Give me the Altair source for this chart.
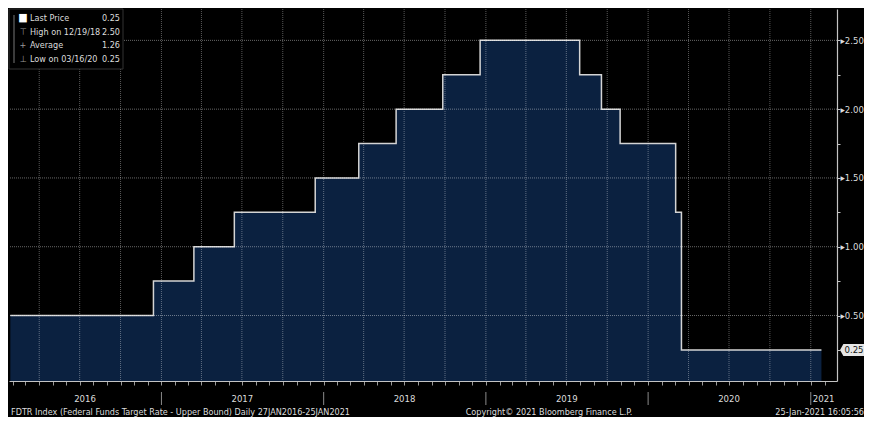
import altair as alt
import pandas as pd

# -----------------------------
# Layout / styling
# -----------------------------
W, H = 828, 372
FONT = "'Liberation Sans Narrow', 'DejaVu Sans Condensed', 'Roboto', sans-serif"
FS = 9
BG = "#000000"
FILL = "#0b2140"
LINE = "#d4d4d4"
TEXT = "#dcdcdc"
AXIS = "#c4c4c4"

# -----------------------------
# Data (FDTR upper bound, effective dates)
# -----------------------------
STEP_DATES = [
    "2016-01-27", "2016-12-14", "2017-03-15", "2017-06-14", "2017-12-13",
    "2018-03-21", "2018-06-13", "2018-09-26", "2018-12-19", "2019-07-31",
    "2019-09-18", "2019-10-30", "2020-03-03", "2020-03-16", "2021-01-25",
]
STEP_RATES = [0.50, 0.75, 1.00, 1.25, 1.50, 1.75, 2.00, 2.25, 2.50, 2.25,
              2.00, 1.75, 1.25, 0.25, 0.25]

YEAR_LABELS = ["2016", "2017", "2018", "2019", "2020", "2021"]
YEAR_LABEL_DATES = ["2016-07-13", "2017-07-02", "2018-07-02", "2019-07-02",
                    "2020-07-01", "2021-01-30"]
YEAR_BREAKS = ["2017-01-01", "2018-01-01", "2019-01-01", "2020-01-01", "2021-01-01"]
QUARTER_STARTS = [f"{y}-{m:02d}-01" for y in range(2016, 2021) for m in (1, 4, 7, 10)][1:] + ["2021-01-01"]
MONTH_TICKS = [(y, m) for y in range(2016, 2022) for m in range(1, 13)
               if (2016, 2) <= (y, m) <= (2021, 2)]

Y_TICKS = [0.25, 0.50, 0.75, 1.00, 1.25, 1.50, 1.75, 2.00, 2.25, 2.50]
Y_GRID = [0.50, 1.00, 1.50, 2.00, 2.50]

LEGEND_ICONS = ["\u25a0", "\u22a4", "+", "\u22a5"]
LEGEND_LABELS = ["Last Price", "High on 12/19/18", "Average", "Low on 03/16/20"]
LEGEND_VALUES = ["0.25", "2.50", "1.26", "0.25"]
LAST_PRICE = 0.25

FOOTER_LEFT = "FDTR Index (Federal Funds Target Rate - Upper Bound)  Daily 27JAN2016-25JAN2021"
FOOTER_MID = "Copyright\u00a9 2021 Bloomberg Finance L.P."
FOOTER_RIGHT = "25-Jan-2021 16:05:56"

# -----------------------------
# Shared scales / axes (same objects on every layer so nothing conflicts)
# -----------------------------
XS = alt.Scale(domain=[alt.DateTime(year=2016, month=1, date=24),
                       alt.DateTime(year=2021, month=3, date=1)])
YS = alt.Scale(domain=[0.024, 2.728], zero=False, nice=False)

X_AXIS = alt.Axis(values=[alt.DateTime(year=y, month=m, date=1) for y, m in MONTH_TICKS],
                  labels=False, grid=False, tickSize=4, tickColor="#9a9a9a",
                  domainColor=AXIS, domainWidth=1.2, title=None)
Y_AXIS = alt.Axis(orient="right", values=Y_TICKS, grid=False,
                  labelExpr="datum.value % 0.5 == 0 ? '\u25b8' + format(datum.value, '.2f') : ''",
                  labelOverlap=False, labelPadding=0, labelColor=TEXT,
                  labelFont=FONT, labelFontSize=FS + 0.5, tickSize=3,
                  tickColor=AXIS, domainColor=AXIS, domainWidth=1.2, title=None)


def xenc(field):
    return alt.X(field, scale=XS, axis=X_AXIS, title=None)


def yenc(field):
    return alt.Y(field, scale=YS, axis=Y_AXIS, title=None)


one = pd.DataFrame({"a": [0]})
steps = pd.DataFrame({"date": STEP_DATES, "rate": STEP_RATES})

area = (
    alt.Chart(steps)
    .mark_area(interpolate="step-after", color=FILL, opacity=1, clip=True,
               line={"color": LINE, "strokeWidth": 1.5})
    .encode(x=xenc("date:T"), y=yenc("rate:Q"))
)

hgrid = (
    alt.Chart(pd.DataFrame({"v": Y_GRID}))
    .mark_rule(color="#ffffff", opacity=0.4, strokeDash=[1, 1])
    .encode(y=yenc("v:Q"))
)

vgrid = (
    alt.Chart(pd.DataFrame({"d": QUARTER_STARTS}))
    .mark_rule(color="#ffffff", opacity=0.35, strokeDash=[1, 1])
    .encode(x=xenc("d:T"))
)

year_text = (
    alt.Chart(pd.DataFrame({"d": YEAR_LABEL_DATES, "t": YEAR_LABELS}))
    .mark_text(color=TEXT, font=FONT, fontSize=FS + 0.5, baseline="middle")
    .encode(x=xenc("d:T"), y=alt.value(H + 18), text="t:N")
)

year_sep = (
    alt.Chart(pd.DataFrame({"d": YEAR_BREAKS}))
    .mark_rule(color="#8a8a8a", strokeWidth=1)
    .encode(x=xenc("d:T"), y=alt.value(H + 11), y2=alt.value(H + 24))
)

footer = alt.layer(
    alt.Chart(one).mark_text(text=FOOTER_LEFT, color=TEXT, font=FONT, fontSize=FS,
                             align="left", baseline="middle")
    .encode(x=alt.value(2), y=alt.value(H + 31)),
    alt.Chart(one).mark_text(text=FOOTER_MID, color=TEXT, font=FONT, fontSize=FS,
                             align="center", baseline="middle")
    .encode(x=alt.value(540), y=alt.value(H + 31)),
    alt.Chart(one).mark_text(text=FOOTER_RIGHT, color=TEXT, font=FONT, fontSize=FS,
                             align="right", baseline="middle")
    .encode(x=alt.value(W + 27), y=alt.value(H + 31)),
)

# last price tag on the right axis
tag_df = pd.DataFrame({"v": [LAST_PRICE], "t": [f"{LAST_PRICE:.2f}"]})
tag = alt.layer(
    alt.Chart(tag_df)
    .mark_point(shape="M-1,0L-0.72,-0.5L1,-0.5L1,0.5L-0.72,0.5Z", filled=True,
                fill="#e6e6e6", opacity=1, size=576, strokeWidth=0)
    .encode(x=alt.value(W + 15), y=yenc("v:Q")),
    alt.Chart(tag_df)
    .mark_text(color="#111111", font=FONT, fontSize=FS + 0.5, baseline="middle")
    .encode(x=alt.value(W + 17), y=yenc("v:Q"), text="t:N"),
)

# legend box (top-left)
LH = 13.5
legend = alt.layer(
    alt.Chart(one).mark_rect(color=BG, stroke="#333333", strokeWidth=1)
    .encode(x=alt.value(0), x2=alt.value(114), y=alt.value(0), y2=alt.value(60)),
    alt.Chart(one).mark_rule(color="#777777", strokeWidth=1)
    .encode(x=alt.value(5), y=alt.value(6), y2=alt.value(54)),
    alt.Chart(one).mark_text(text=LEGEND_ICONS[:1], color="#ffffff", font=FONT, fontSize=11,
                             align="center", baseline="top", lineHeight=LH)
    .encode(x=alt.value(14), y=alt.value(3)),
    alt.Chart(one).mark_text(text=[""] + LEGEND_ICONS[1:], color="#9a9a9a", font=FONT, fontSize=FS,
                             align="center", baseline="top", lineHeight=LH)
    .encode(x=alt.value(14), y=alt.value(5)),
    alt.Chart(one).mark_text(text=LEGEND_LABELS, color=TEXT, font=FONT, fontSize=FS,
                             align="left", baseline="top", lineHeight=LH)
    .encode(x=alt.value(21), y=alt.value(5)),
    alt.Chart(one).mark_text(text=LEGEND_VALUES, color=TEXT, font=FONT, fontSize=FS,
                             align="right", baseline="top", lineHeight=LH)
    .encode(x=alt.value(111), y=alt.value(5)),
)

chart = (
    alt.layer(area, hgrid, vgrid, year_sep, year_text, footer, tag, legend)
    .properties(width=W, height=H, padding={"left": 0, "top": 0, "right": 0, "bottom": 0})
    .configure(background=BG, font=FONT)
    .configure_view(strokeWidth=0)
)

chart.save("out.html", embed_options={"renderer": "svg", "actions": False})
